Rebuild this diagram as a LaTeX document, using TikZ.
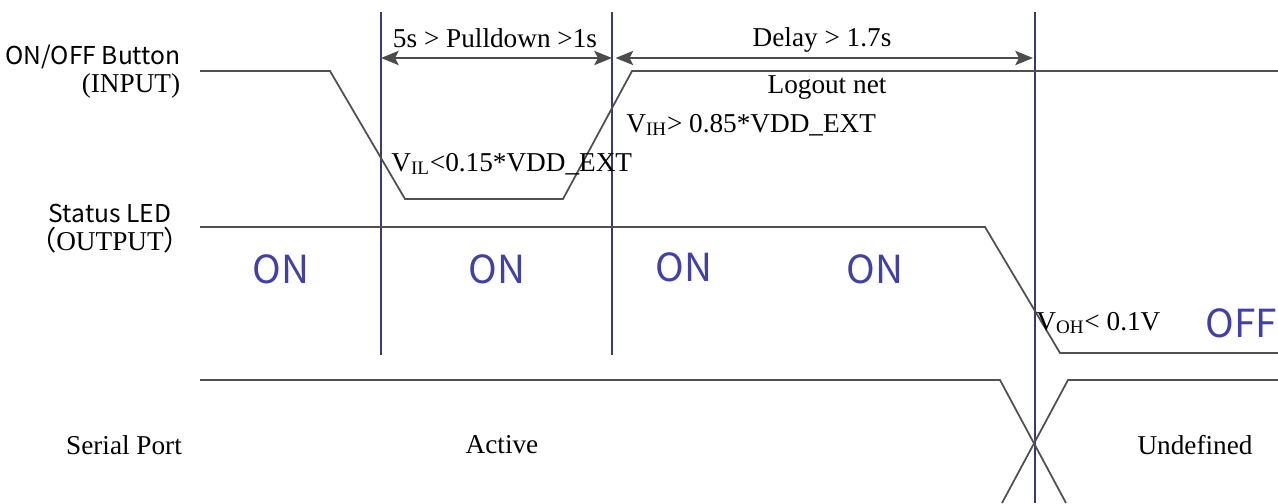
\documentclass[tikz,border=0pt]{standalone}
\usepackage{fontspec}
\setmainfont{Liberation Serif}
\newfontfamily\cjksans{Noto Sans CJK SC}
\usetikzlibrary{arrows.meta,positioning}
\definecolor{wave}{HTML}{505050}
\definecolor{mark}{HTML}{3A3A70}
\definecolor{state}{HTML}{4040A8}

\begin{document}
\begin{tikzpicture}[x=0.2mm,y=-0.2mm,
  sig/.style={draw=wave,line width=1pt},
  vl/.style={draw=mark,line width=0.9pt},
  dimarr/.style={{Stealth[length=10pt,width=8pt,inset=2pt]}-{Stealth[length=10pt,width=8pt,inset=2pt]},draw=black!70,line width=1.5pt},
  lbl/.style={font=\fontsize{15.5}{17}\selectfont,inner sep=0pt},
  sname/.style={font=\cjksans\fontsize{14}{16}\selectfont,inner sep=0pt},
  st/.style={font=\cjksans\fontsize{22}{24}\selectfont,text=state,inner sep=0pt}]
  \useasboundingbox (0,0) rectangle (1278,503);
  % markers
  \coordinate (m1t) at (381,12); \coordinate (m1b) at (381,355);
  \coordinate (m2t) at (612,12); \coordinate (m2b) at (612,355);
  \coordinate (m3t) at (1035,12); \coordinate (m3b) at (1035,503);
  \draw[vl] (m1t)--(m1b); \draw[vl] (m2t)--(m2b); \draw[vl] (m3t)--(m3b);
  % button (input)
  \draw[sig] (200,71)--(330,71)--(405,199)--(563,199)--(632,71)--(1278,71);
  % status led (output)
  \draw[sig] (200,227)--(985,227)--(1060,353)--(1278,353);
  % serial port
  \draw[sig] (200,380)--(1000,380)--(1066,503);
  \draw[sig] (1278,380)--(1068,380)--(1002,503);
  % timing
  \coordinate (a1) at (381,58); \coordinate (a2) at (612,58); \coordinate (a3) at (1033,58);
  \draw[dimarr] (a1)--(a2);
  \draw[dimarr] ([xshift=2pt]a2)--(a3);
  \node[lbl] (pd) at (495,38) {5s > Pulldown >1s};
  \node[lbl] (dl) at (822,40) {Delay > 1.7s};
  \node[lbl] (lo) at (827,88) {Logout net};
  \node[lbl,anchor=west] (vih) at (626,125) {V\textsubscript{IH}> 0.85*VDD\_EXT};
  \node[lbl,anchor=west] (vil) at (391,164) {V\textsubscript{IL}<0.15*VDD\_EXT};
  \node[lbl,anchor=west] (voh) at (1036,323) {V\textsubscript{OH}< 0.1V};
  % signal names
  \node[sname] (btn) at (93,57) {ON/OFF Button};
  \node[lbl] (inp) at (131,86) {(INPUT)};
  \node[sname] (led) at (110,213) {Status LED};
  \node[lbl] (outp) at (110,240) {{\cjksans （}OUTPUT{\cjksans ）}};
  \node[lbl] (ser) at (124,445) {Serial Port};
  \node[lbl] (act) at (502,445) {Active};
  \node[lbl] (und) at (1195,445) {Undefined};
  % led states
  \node[st] (on1) at (281,269) {ON};
  \node[st] (on2) at (497,269) {ON};
  \node[st] (on3) at (684,267) {ON};
  \node[st] (on4) at (875,269) {ON};
  \node[st] (off) at (1241,323) {OFF};
\end{tikzpicture}
\end{document}
